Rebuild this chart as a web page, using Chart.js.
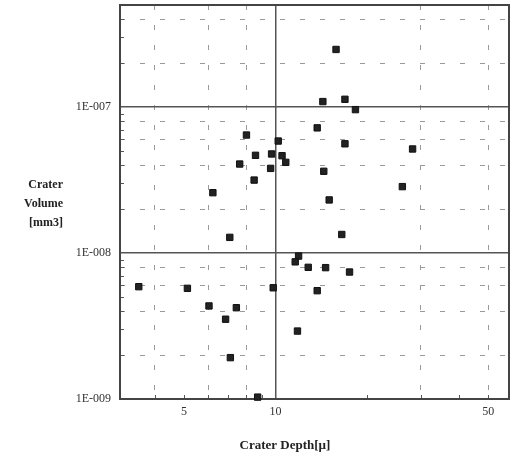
<!DOCTYPE html>
<html><head><meta charset="utf-8">
<script src="https://cdn.jsdelivr.net/npm/chart.js@4"></script>
<style>html,body{margin:0;padding:0;background:#fff}canvas{display:block}</style>
</head><body>
<canvas id="c" width="511" height="461"></canvas>
<script>
// Crater depth (µ) and crater volume (mm3)
const depth  = [15.8, 14.3, 16.9, 18.3, 13.7, 8.02, 10.2, 16.9, 28.2, 8.59, 9.7, 10.5, 10.8, 7.62, 9.63, 14.4, 8.5, 26.1, 6.22, 15.0,
                7.07, 16.5, 11.9, 11.6, 12.8, 14.6, 17.5, 3.55, 5.13, 9.82, 13.7, 6.04, 7.43, 6.85, 11.8, 7.1, 8.73];
const volume = [2.48e-7, 1.09e-7, 1.13e-7, 9.6e-8, 7.2e-8, 6.43e-8, 5.85e-8, 5.6e-8, 5.16e-8, 4.67e-8, 4.77e-8, 4.64e-8, 4.18e-8, 4.07e-8, 3.8e-8, 3.63e-8, 3.16e-8, 2.85e-8, 2.59e-8, 2.31e-8,
                1.28e-8, 1.34e-8, 9.53e-9, 8.7e-9, 7.98e-9, 7.94e-9, 7.41e-9, 5.88e-9, 5.73e-9, 5.78e-9, 5.52e-9, 4.34e-9, 4.22e-9, 3.52e-9, 2.92e-9, 1.92e-9, 1.03e-9];

const xTicks = [4, 5, 6, 8, 10, 30, 50];
const xTickLabels = ['', '5', '', '', '10', '', '50'];
const xMajor = [10];
const xMinorMarks = [4, 5, 6, 7, 8, 9, 20, 30, 40, 50];
const yTicks = [1e-9, 2e-9, 4e-9, 6e-9, 8e-9, 1e-8, 2e-8, 4e-8, 6e-8, 8e-8, 1e-7, 2e-7, 4e-7];
const yTickLabels = ['1E-009', '', '', '', '', '1E-008', '', '', '', '', '1E-007', '', ''];
const yTitle = ['Crater', 'Volume', '[mm3]'];
const xTitle = 'Crater Depth[µ]';

const SERIF = '"Liberation Serif", "DejaVu Serif", serif';
const pts = depth.map((d, i) => ({x: d, y: volume[i]}));

function isDecade(v) { const l = Math.log10(v); return Math.abs(l - Math.round(l)) < 1e-6; }

const overlay = {
  id: 'overlay',
  beforeDatasetsDraw(chart) {
    const {ctx, chartArea: a, scales: {x, y}} = chart;
    ctx.save();
    ctx.strokeStyle = '#555';
    ctx.lineWidth = 1;
    // minor ticks on left axis
    for (let e = -9; e <= -7; e++) {
      for (let m = 2; m <= 9; m++) {
        const v = m * Math.pow(10, e);
        if (v > 5e-7) continue;
        const py = Math.round(y.getPixelForValue(v)) + 0.5;
        ctx.beginPath(); ctx.moveTo(a.left, py); ctx.lineTo(a.left + 4, py); ctx.stroke();
      }
    }
    // minor ticks on bottom axis
    xMinorMarks.forEach(v => {
      const px = Math.round(x.getPixelForValue(v)) + 0.5;
      ctx.beginPath(); ctx.moveTo(px, a.bottom); ctx.lineTo(px, a.bottom - 4); ctx.stroke();
    });
    // frame
    ctx.strokeStyle = '#444';
    ctx.lineWidth = 2;
    ctx.strokeRect(a.left, a.top, a.right - a.left, a.bottom - a.top);
    ctx.restore();
  },
  afterDraw(chart) {
    const {ctx} = chart;
    ctx.save();
    ctx.fillStyle = '#222';
    ctx.font = 'bold 12px ' + SERIF;
    ctx.textAlign = 'right';
    ctx.textBaseline = 'middle';
    yTitle.forEach((t, i) => ctx.fillText(t, 63, 185 + i * 19));
    ctx.font = 'bold 13px ' + SERIF;
    ctx.textAlign = 'center';
    ctx.fillText(xTitle, 285, 446);
    ctx.restore();
  }
};

new Chart(document.getElementById('c'), {
  type: 'scatter',
  data: {
    datasets: [{
      data: pts,
      pointStyle: 'rect',
      pointRadius: 4.5,
      pointHoverRadius: 4.5,
      backgroundColor: '#222',
      borderColor: '#111',
      borderWidth: 1,
      clip: 6
    }]
  },
  options: {
    responsive: false,
    animation: false,
    devicePixelRatio: 1,
    layout: {autoPadding: false, padding: {top: 5, right: 2, left: 0, bottom: 0}},
    plugins: {legend: {display: false}, tooltip: {enabled: false}},
    scales: {
      x: {
        type: 'logarithmic',
        min: 3.08, max: 58.5,
        afterBuildTicks(s) { s.ticks = xTicks.map(v => ({value: v})); },
        afterFit(s) { s.height = 62; s.paddingLeft = 0; s.paddingRight = 0; s.paddingTop = 0; s.paddingBottom = 0; },
        ticks: {
          autoSkip: false, maxRotation: 0, padding: 6,
          color: '#333', font: {family: SERIF, size: 12},
          callback(v, i) { return xTickLabels[i]; }
        },
        grid: {
          drawTicks: false,
          color(c) { const v = c.tick && c.tick.value; if (v === 5) return 'rgba(0,0,0,0)'; return xMajor.includes(v) ? '#555' : '#9a9a9a'; },
          lineWidth(c) { const v = c.tick && c.tick.value; return xMajor.includes(v) ? 1.5 : 1; }
        },
        border: {display: false, dash(c) { const v = c.tick && c.tick.value; return xMajor.includes(v) ? [] : [5, 15]; }}
      },
      y: {
        type: 'logarithmic',
        min: 1e-9, max: 5e-7,
        afterBuildTicks(s) { s.ticks = yTicks.map(v => ({value: v})); },
        afterFit(s) { s.width = 120; s.paddingLeft = 0; s.paddingRight = 0; s.paddingTop = 0; s.paddingBottom = 0; },
        ticks: {
          autoSkip: false, padding: 9,
          color: '#333', font: {family: SERIF, size: 12},
          callback(v, i) { return yTickLabels[i]; }
        },
        grid: {
          drawTicks: false,
          color(c) { const v = c.tick && c.tick.value; return v && isDecade(v) ? '#555' : '#9a9a9a'; },
          lineWidth(c) { const v = c.tick && c.tick.value; return v && isDecade(v) ? 1.5 : 1; }
        },
        border: {display: false, dash(c) { const v = c.tick && c.tick.value; return v && isDecade(v) ? [] : [5, 15]; }}
      }
    }
  },
  plugins: [overlay]
});
</script>
</body></html>
